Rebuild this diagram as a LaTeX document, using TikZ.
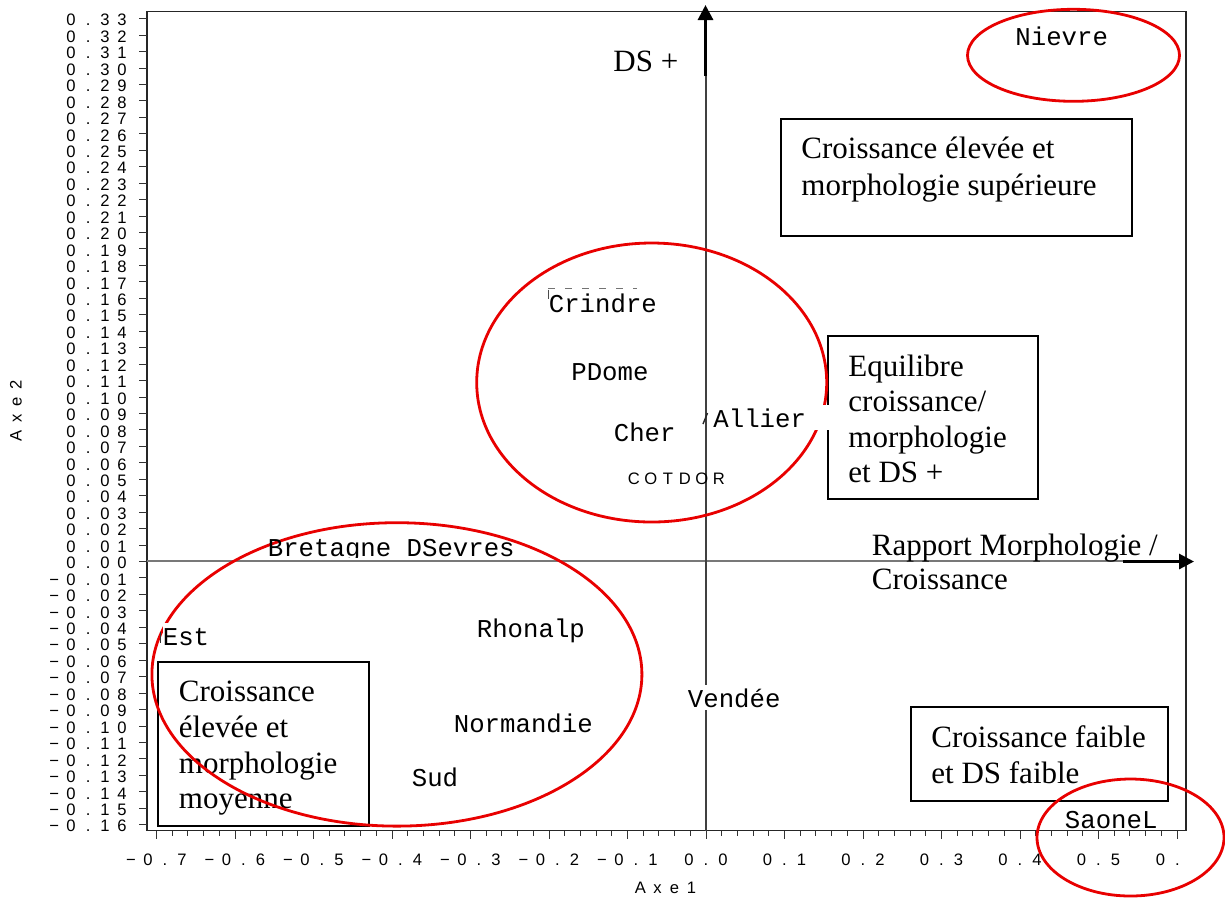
\documentclass[tikz,border=0pt]{standalone}
\usepackage{fontspec}
\setmainfont{Liberation Serif}
\newfontfamily\labfont{Liberation Mono}
\newfontfamily\sasfont{Liberation Sans}
\usetikzlibrary{arrows.meta,fit}

\definecolor{ringred}{RGB}{232,0,0}
\definecolor{axisgray}{RGB}{120,120,120}

% one fixed-pitch cell of the plotting font
\newcommand\sascell[1]{\makebox[8.5pt][c]{#1}}
\def\saswordloop#1{\ifx\relax#1\else\sascell{#1}\expandafter\saswordloop\fi}
\newcommand\sasword[1]{\saswordloop#1\relax}
% fixed height of the first line of the boxed texts
\newcommand\firstline{\rule{0pt}{15pt}}

\begin{document}
\begin{tikzpicture}[x=0.5pt,y=-0.5pt,
  frame/.style={draw=black!85,line width=0.6pt},
  tickline/.style={draw=black!80,line width=0.5pt},
  saslab/.style={font=\sasfont\fontsize{8.3}{9}\selectfont,inner sep=0pt},
  ptlab/.style={font=\labfont\fontsize{12.85}{14}\selectfont,inner sep=0pt,anchor=base west},
  masklab/.style={ptlab,fill=white,text height=11pt,text depth=1.5pt},
  box/.style={draw=black,line width=1.2pt,fill=white,inner sep=0pt},
  boxtext/.style={inner sep=0pt,anchor=north west,align=left},
  ring/.style={draw=ringred,line width=1.4pt},
  bigarrow/.style={line width=1.5pt,-{Triangle[length=7.5pt,width=7.5pt]}}]

\useasboundingbox (0,0) rectangle (1225,902);

% plotting frame and reference lines
\draw[frame] (147,11.5) rectangle (1186,830.5);
\draw[draw=axisgray,line width=0.7pt] (147,561) -- (1186,561);
\draw[draw=black!75,line width=0.7pt] (706,11.5) -- (706,830.5);

% vertical scale
\foreach \k in {0,...,49}{
  \pgfmathtruncatemacro\yv{33-\k}
  \pgfmathtruncatemacro\ya{abs(\yv)}
  \pgfmathtruncatemacro\yt{int(\ya/10)}
  \pgfmathtruncatemacro\yu{\ya-10*\yt}
  \pgfmathsetmacro\yy{561.5-\yv*16.45}
  \draw[tickline] (139,\yy) -- (147,\yy);
  \node[saslab,anchor=east] (ylab\k) at (131,\yy+1.5)
    {\ifnum\yv<0 \sascell{−}\fi\sasword{0.\yt\yu}};
}

% horizontal scale
\foreach \j in {0,...,65}{
  \draw[tickline] (156.5+\j*15.7,830.5) -- (156.5+\j*15.7,835.5);
}
\foreach \j in {0,...,13}{
  \draw[tickline] (156.5+\j*78.5,830.5) -- (156.5+\j*78.5,839);
}
\foreach \j in {0,...,12}{
  \pgfmathtruncatemacro\xv{\j-7}
  \pgfmathtruncatemacro\xa{abs(\xv)}
  \node[saslab] (xlab\j) at (156.5+\j*78.5,860)
    {\ifnum\xv<0 \sascell{−}\fi\sasword{0.\xa}};
}
\node[saslab,anchor=west] (xlab13) at (1151.5,860) {\sasword{0.}};

\node[saslab] (axe1) at (666,888) {\sasword{Axe1}};
\node[saslab,rotate=90] (axe2) at (16,410) {\sasword{Axe2}};

% interpretation boxes
\node[box,fit={(781,119) (1132,236)}] (boxA) {};
\node[box,fit={(828,336) (1038,499)}] (boxB) {};
\node[box,fit={(158,662) (369,826)}] (boxC) {};
\node[box,fit={(911,707) (1168,801)}] (boxD) {};

\node[boxtext,font=\fontsize{15.5}{18.35}\selectfont] (txtA) at (801,128.3)
  {\firstline Croissance élevée et\\morphologie supérieure};
\node[boxtext,font=\fontsize{15.5}{17.7}\selectfont] (txtB) at (848,346)
  {\firstline Equilibre\\croissance/\\morphologie\\et DS +};
\node[boxtext,font=\fontsize{15.5}{17.9}\selectfont] (txtC) at (178.5,671)
  {\firstline Croissance\\élevée et\\morphologie\\moyenne};
\node[boxtext,font=\fontsize{15.5}{18}\selectfont] (txtD) at (931,717)
  {\firstline Croissance faible\\et DS faible};

% axis titles
\node[anchor=base west,inner sep=0pt,font=\fontsize{15.5}{18}\selectfont] (dsplus) at (613,71) {DS +};
\node[boxtext,font=\fontsize{15.5}{17}\selectfont] (rapport) at (871.5,525)
  {\firstline Rapport Morphologie /\\Croissance};

% groups of regions
\draw[ring] (1073.5,55.3) ellipse [x radius=106,y radius=46];
\draw[ring] (651.7,382.5) ellipse [x radius=175,y radius=139.5];
\draw[ring] (396.9,674.4) ellipse [x radius=245,y radius=151.7];
\draw[ring] (1130.5,837.5) ellipse [x radius=93.5,y radius=58.5];

% remains of overprinted labels
\draw[draw=black!55,line width=0.5pt,dash pattern=on 3.5pt off 5pt] (548,288.3) -- (637,288.3);
\draw[draw=black!70,line width=0.5pt] (548,289.5) -- (548,299);
\draw[draw=black!80,line width=0.6pt] (160.5,632) -- (160.5,643);
\draw[draw=black!85,line width=0.7pt] (703,424) -- (707.5,413);

% region labels
\node[ptlab] (nievre) at (1015,45) {Nievre};
\node[ptlab] (crindre) at (548.5,312.3) {Crindre};
\node[ptlab] (pdome) at (571,380.7) {PDome};
\node[ptlab] (cher) at (613.5,441.7) {Cher};
\node[masklab,inner xsep=2pt] (allier) at (709,427.3) {Allier\hspace*{11.5pt}};
\node[saslab,anchor=base west] (cotdor) at (625,484) {\sasword{COTDOR}};
\begin{scope}
  \clip (255,530) rectangle (530,557.5);
  \node[ptlab] (bretagne) at (267.5,556) {Bretagne DSevres};
\end{scope}
\node[masklab] (est) at (162.5,645) {Est};
\node[ptlab] (rhonalp) at (476.5,637) {Rhonalp};
\node[ptlab] (normandie) at (453.5,732) {Normandie};
\node[ptlab] (sud) at (411.5,786) {Sud};
\node[masklab] (vendee) at (687.5,707.3) {Vendée};
\node[ptlab] (saonel) at (1064.5,828.3) {SaoneL};

% direction arrows
\coordinate (dsfrom) at (705.5,76);
\coordinate (dsto) at (705.5,5);
\coordinate (rapfrom) at (1123,561.5);
\coordinate (rapto) at (1194,561.5);
\draw[bigarrow] (dsfrom) -- (dsto);
\draw[bigarrow] (rapfrom) -- (rapto);
\end{tikzpicture}
\end{document}
